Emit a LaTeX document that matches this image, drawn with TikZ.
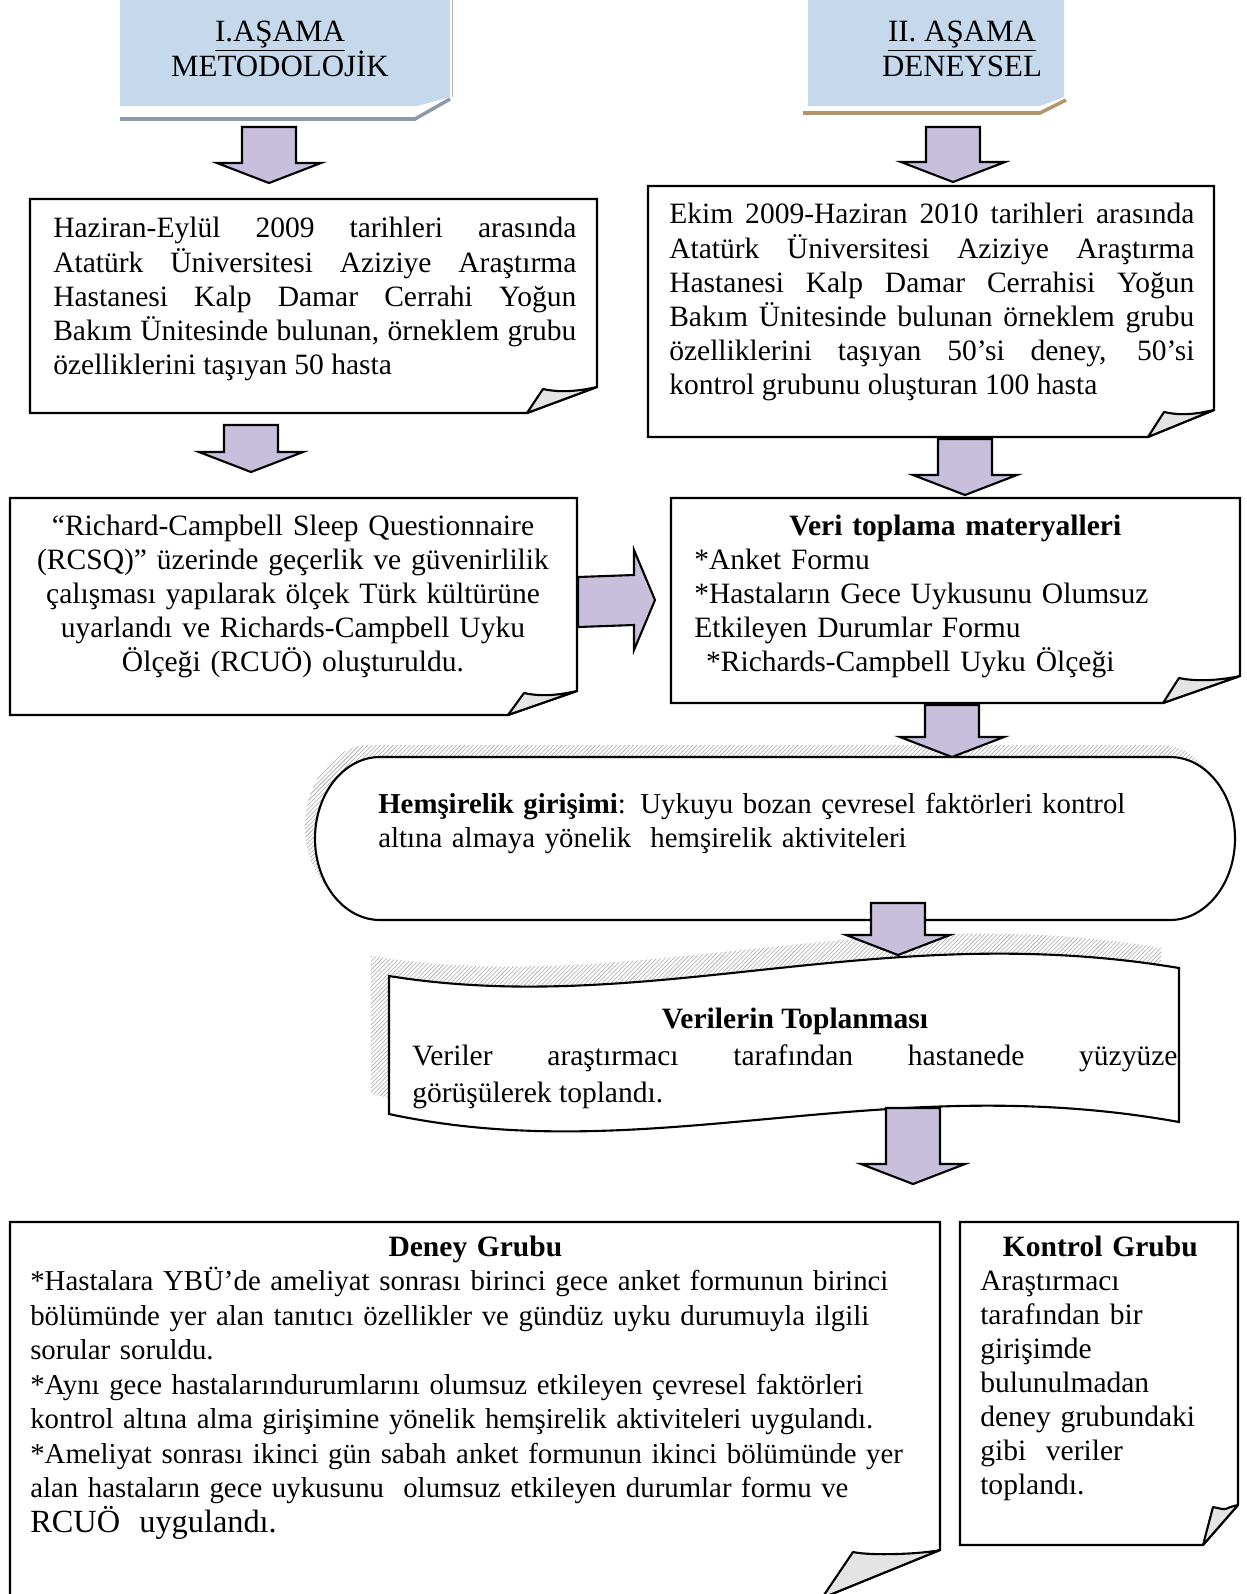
\documentclass[tikz,border=0pt]{standalone}
\usepackage{fontspec}
\setmainfont{Liberation Serif}
\usetikzlibrary{calc,patterns}
\tolerance=10000
\definecolor{banner}{HTML}{C6D9EC}
\definecolor{bannerlineI}{HTML}{8D98AC}
\definecolor{bannerlineII}{HTML}{B0946E}
\definecolor{arrowfill}{HTML}{C8BFDD}
\definecolor{flap}{HTML}{E4E4E4}
\definecolor{shade}{HTML}{A8A8A8}
\tikzset{
  box/.style={draw=black, line width=1.5pt, fill=white},
  flapbox/.style={draw=black, line width=1.5pt, fill=flap, line join=round},
  blk/.style={draw=black, line width=1.5pt, fill=arrowfill},
  shadow/.style={pattern=north east lines, pattern color=shade, draw=none},
  txt/.style={inner sep=0pt, font=\fontsize{21}{24.2}\selectfont, execute at begin node=\strut},
  hdr/.style={inner sep=0pt, align=center, font=\fontsize{22}{25}\selectfont, execute at begin node=\strut}
}
% box with a turned-up corner: x0,y0,x1,y1, bottom end x, right end y, flap tip x,y
\newcommand\foldbox[8]{%
  \draw[box] (#1,#2) -- (#3,#2) -- (#3,#6) -- (#5,#4) -- (#1,#4) -- cycle;
  \draw[flapbox] (#5,#4) -- (#7,#8) .. controls +(18,4) and +(-18,4) .. (#3,#6) -- cycle;}
% block arrow pointing down, from top centre to tip
\newcommand\blkdown[2]{%
  \draw[blk] ($(#1)+(-27,0)$) -- ($(#2)+(-27,-20)$) -- ($(#2)+(-52,-20)$) -- (#2)
    -- ($(#2)+(52,-20)$) -- ($(#2)+(27,-20)$) -- ($(#1)+(27,0)$) -- cycle;}
% block arrow pointing right
\newcommand\blkright[2]{%
  \draw[blk] ($(#1)+(0,-25)$) -- ($(#2)+(-21,-25)$) -- ($(#2)+(-21,-50)$) -- (#2)
    -- ($(#2)+(-21,50)$) -- ($(#2)+(-21,25)$) -- ($(#1)+(0,25)$) -- cycle;}

\begin{document}
\begin{tikzpicture}[x=0.025cm, y=-0.025cm]
  \path[use as bounding box, fill=white] (0,0) rectangle (1247,1594);
  \clip (0,0) rectangle (1247,1594);

  % phase banners
  \fill[banner] (120,-5) -- (450,-5) -- (450,97) -- (417,106) -- (120,106) -- cycle;
  \draw[gray!60, line width=0.6pt] (452,-5) -- (452,97);
  \draw[bannerlineI, line width=2.5pt] (120,119) -- (415,119) -- (450,99);
  \node[hdr, anchor=north] (hdrI) at (280,21) {\underline{I.AŞAMA}\\METODOLOJİK};

  \fill[banner] (808,-5) -- (1064,-5) -- (1064,97) -- (1040,106) -- (808,106) -- cycle;
  \draw[bannerlineII, line width=2.5pt] (803,113) -- (1040,113) -- (1066,100);
  \node[hdr, anchor=north] (hdrII) at (962,21) {\underline{II. AŞAMA}\\DENEYSEL};

  % first row
  \foldbox{30}{199}{597}{413}{527}{387}{543}{389}
  \node[txt, anchor=north west, text width=13.075cm, align=justify] (sampleI) at (53,213)
    {Haziran-Eylül 2009 tarihleri arasında\linebreak
     Atatürk Üniversitesi Aziziye Araştırma\linebreak
     Hastanesi Kalp Damar Cerrahi Yoğun\linebreak
     Bakım Ünitesinde bulunan, örneklem grubu\linebreak
     özelliklerini taşıyan 50 hasta};

  \foldbox{648}{186}{1214}{437}{1148}{410}{1164}{412}
  \node[txt, anchor=north west, text width=13.125cm, align=justify] (sampleII) at (669,199)
    {Ekim 2009-Haziran 2010 tarihleri arasında\linebreak
     Atatürk Üniversitesi Aziziye Araştırma\linebreak
     Hastanesi Kalp Damar Cerrahisi Yoğun\linebreak
     Bakım Ünitesinde bulunan örneklem grubu\linebreak
     özelliklerini taşıyan 50’si deney, 50’si\linebreak
     kontrol grubunu oluşturan 100 hasta};

  % second row
  \foldbox{10}{498}{577}{715}{508}{691}{524}{693}
  \node[txt, anchor=north, text width=13.5cm, align=center] (rcsq) at (293,511)
    {“Richard-Campbell Sleep Questionnaire\\
     (RCSQ)” üzerinde geçerlik ve güvenirlilik\\
     çalışması yapılarak ölçek Türk kültürüne\\
     uyarlandı ve Richards-Campbell Uyku\\
     Ölçeği (RCUÖ) oluşturuldu.};

  \foldbox{671}{498}{1240}{703}{1163}{676}{1179}{678}
  \node[txt, anchor=north west, text width=13.05cm, align=left] (materials) at (694,511)
    {\makebox[\linewidth]{\bfseries Veri toplama materyalleri}\\
     {*}Anket Formu\\
     {*}Hastaların Gece Uykusunu Olumsuz\\
     Etkileyen Durumlar Formu\\
     \hspace{0.4em}*Richards-Campbell Uyku Ölçeği};

  % intervention
  \fill[shadow, shift={(-10,-12)}] (380,757) -- (1170,757)
    arc[start angle=-90, end angle=90, x radius=65, y radius=81.5] -- (380,920)
    arc[start angle=90, end angle=270, x radius=65, y radius=81.5] -- cycle;
  \draw[box] (380,757) -- (1170,757)
    arc[start angle=-90, end angle=90, x radius=65, y radius=81.5] -- (380,920)
    arc[start angle=90, end angle=270, x radius=65, y radius=81.5] -- cycle;
  \node[txt, anchor=north west, text width=20cm, align=left,
        font=\fontsize{20.5}{24.2}\selectfont] (intervention) at (378,789)
    {\textbf{Hemşirelik girişimi}: Uykuyu bozan çevresel faktörleri kontrol\\
     altına almaya yönelik\ \ hemşirelik aktiviteleri};

  % data collection
  \fill[shadow, shift={(-18,-20)}] (389,976) .. controls (650,1018) and (880,918) .. (1179,968)
    -- (1179,1122) .. controls (880,1068) and (650,1170) .. (389,1114) -- cycle;
  \draw[box] (389,976) .. controls (650,1018) and (880,918) .. (1179,968)
    -- (1179,1122) .. controls (880,1068) and (650,1170) .. (389,1114) -- cycle;
  \node[txt, anchor=north west, text width=19.125cm, align=justify,
        font=\fontsize{21}{26}\selectfont] (collect) at (412,1003)
    {\makebox[\linewidth]{\bfseries Verilerin Toplanması}\\
     Veriler araştırmacı tarafından hastanede yüzyüze\linebreak
     görüşülerek toplandı.};

  % groups
  \foldbox{10}{1222}{940}{1598}{822}{1550}{853}{1552}
  \node[txt, anchor=north west, text width=23.5cm, align=left,
        font=\fontsize{20.5}{24.5}\selectfont] (deney) at (30,1232)
    {\makebox[22.25cm]{\fontsize{21}{24.5}\selectfont\bfseries Deney Grubu}\\
     {*}Hastalara YBÜ’de ameliyat sonrası birinci gece anket formunun birinci\\
     bölümünde yer alan tanıtıcı özellikler ve gündüz uyku durumuyla ilgili\\
     sorular soruldu.\\
     {*}Aynı gece hastalarındurumlarını olumsuz etkileyen çevresel faktörleri\\
     kontrol altına alma girişimine yönelik hemşirelik aktiviteleri uygulandı.\\
     {*}Ameliyat sonrası ikinci gün sabah anket formunun ikinci bölümünde yer\\
     alan hastaların gece uykusunu\ \ olumsuz etkileyen durumlar formu ve\\
     {\fontsize{23}{26}\selectfont RCUÖ\ \ uygulandı.}};

  \foldbox{960}{1222}{1238}{1545}{1203}{1505}{1213}{1507}
  \node[txt, anchor=north west, text width=6cm, align=left] (kontrol) at (980,1232)
    {\makebox[\linewidth]{\bfseries Kontrol Grubu}\\
     Araştırmacı\\
     tarafından bir\\
     girişimde\\
     bulunulmadan\\
     deney grubundaki\\
     gibi\ \ veriler\\
     toplandı.};

  % arrows
  \coordinate (a1s) at (269,127);  \coordinate (a1e) at (269,183);
  \coordinate (a2s) at (953,127);  \coordinate (a2e) at (953,182);
  \coordinate (a3s) at (251,425);  \coordinate (a3e) at (251,472);
  \coordinate (a4s) at (965,439);  \coordinate (a4e) at (965,495);
  \coordinate (a5s) at (952,705);  \coordinate (a5e) at (952,757);
  \coordinate (a6s) at (898,903);  \coordinate (a6e) at (898,955);
  \coordinate (a7s) at (913,1108); \coordinate (a7e) at (913,1184);
  \coordinate (a8s) at (578,602);  \coordinate (a8e) at (655,600);
  \blkdown{a1s}{a1e}
  \blkdown{a2s}{a2e}
  \blkdown{a3s}{a3e}
  \blkdown{a4s}{a4e}
  \blkdown{a5s}{a5e}
  \blkdown{a6s}{a6e}
  \blkdown{a7s}{a7e}
  \blkright{a8s}{a8e}
\end{tikzpicture}
\end{document}
